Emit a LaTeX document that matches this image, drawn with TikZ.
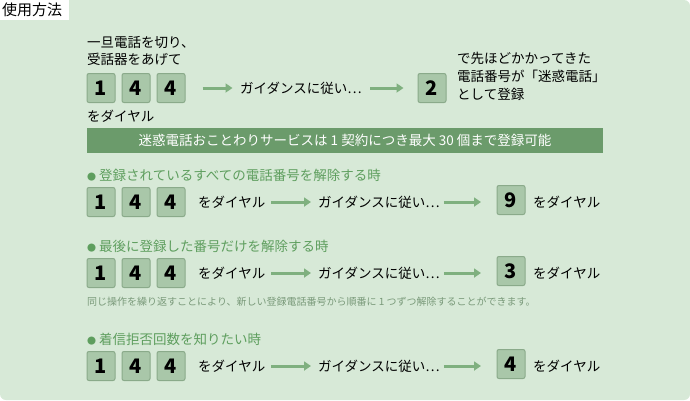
\documentclass[tikz,border=0pt]{standalone}
\usepackage{fontspec}
\setmainfont{Noto Sans CJK JP}
\usetikzlibrary{arrows.meta}
\definecolor{bg}{HTML}{D7E9D7}
\definecolor{keyf}{HTML}{A9C7A9}
\definecolor{keyd}{HTML}{8AAA8A}
\definecolor{band}{HTML}{6B9B6B}
\definecolor{head}{HTML}{5E9E5E}
\definecolor{arr}{HTML}{7FB07F}
\definecolor{note}{HTML}{7A9A7A}
\tikzset{x=1pt,y=-1pt,
 key/.style={draw=keyd,fill=keyf,rounded corners=2pt,line width=1pt,minimum width=28pt,minimum height=29pt,inner sep=0pt,font=\fontsize{20}{20}\selectfont\bfseries},
 txt/.style={anchor=west,inner sep=0pt,font=\fontsize{13.5}{17}\selectfont},
 hd/.style={txt,text=head},
 flow/.style={draw=arr,line width=3pt,-{Triangle[length=7pt,width=9pt]}}}
\begin{document}
\begin{tikzpicture}
\useasboundingbox (0,0) rectangle (690,400);
\fill[bg,rounded corners=6pt] (0,0) rectangle (690,400);
\fill[white] (0,0) rectangle (69,20);
\node[txt,font=\fontsize{15}{15}\selectfont] (title) at (2,10) {使用方法};
% top
\node[txt,align=left,anchor=north west] (t1) at (87,36) {一旦電話を切り、\\受話器をあげて};
\node[key] (a1) at (101,88) {1};
\node[key] (a2) at (136,88) {4};
\node[key] (a3) at (171,88) {4};
\node[txt] (ad) at (87,116) {をダイヤル};
\node[txt] (ag) at (240,88) {ガイダンスに従い…};
\node[key] (a4) at (432,88) {2};
\draw[flow] (a3.east)++(17,0) coordinate (s0) -- ++(30,0);
\draw[flow] (370,88) -- ([xshift=-14pt]a4.west);
\node[txt,align=left,anchor=north west,font=\fontsize{13.5}{18}\selectfont] (at) at (457,52) {で先ほどかかってきた\\電話番号が「迷惑電話」\\として登録};
\node[fill=band,text=white,minimum width=516pt,minimum height=25pt,inner sep=0pt,font=\fontsize{13.5}{13.5}\selectfont] (bn) at (345,140) {迷惑電話おことわりサービスは 1 契約につき最大 30 個まで登録可能};
% sections
\foreach \y/\h/\d/\n in {202/登録されているすべての電話番号を解除する時/9/b, 273/最後に登録した番号だけを解除する時/3/c, 366/着信拒否回数を知りたい時/4/d}{
 \node[hd] (\n h) at (87,\y-27) {{\fontsize{9}{9}\selectfont●} \h};
 \node[key] (\n1) at (101,\y) {1};
 \node[key] (\n2) at (136,\y) {4};
 \node[key] (\n3) at (171,\y) {4};
 \node[txt] (\n t) at (198,\y) {をダイヤル};
 \node[txt] (\n g) at (318,\y) {ガイダンスに従い…};
 \node[key] (\n4) at (511,\y-2) {\d};
 \node[txt] (\n e) at (533,\y) {をダイヤル};
 \draw[flow] ([xshift=6pt]\n t.east) -- ([xshift=-7pt]\n g.west);
 \draw[flow] ([xshift=4pt]\n g.east) -- (481,\y);
}
\node[txt,text=note,font=\fontsize{10}{10}\selectfont] (nt) at (87,302) {同じ操作を繰り返すことにより、新しい登録電話番号から順番に 1 つずつ解除することができます。};
\end{tikzpicture}
\end{document}
